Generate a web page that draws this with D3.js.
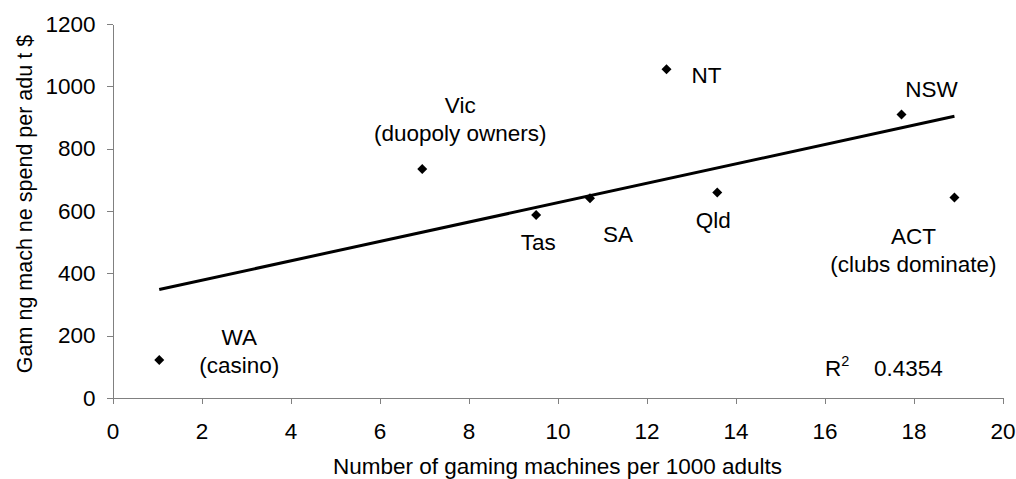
<!DOCTYPE html>
<html>
<head>
<meta charset="utf-8">
<script src="https://cdn.jsdelivr.net/npm/d3@7"></script>
<style>
  html, body { margin: 0; padding: 0; background: #fff; }
  svg { display: block; font-family: "Liberation Sans", Arial, sans-serif; }
  .axis path, .axis line { stroke: #808080; shape-rendering: crispEdges; }
  .axis text { fill: #000; font-size: 22.5px; }
  .lbl { font-size: 22.5px; fill: #000; }
</style>
</head>
<body>
<svg></svg>
<script>
// states, machines per 1000 adults, spend per adult $
const states   = ['WA', 'Vic', 'Tas', 'SA', 'NT', 'Qld', 'NSW', 'ACT']
const machines = [1.05, 6.96, 9.52, 10.73, 12.45, 13.59, 17.73, 18.92]
const spend    = [122, 735, 587, 641, 1055, 659, 910, 643]

// label text per state (second line optional)
const labelLines = [
  ['WA', '(casino)'],
  ['Vic', '(duopoly owners)'],
  ['Tas'],
  ['SA'],
  ['NT'],
  ['Qld'],
  ['NSW'],
  ['ACT', '(clubs dominate)']
]

const xTicks = [0, 2, 4, 6, 8, 10, 12, 14, 16, 18, 20]
const yTicks = [0, 200, 400, 600, 800, 1000, 1200]
const rSquared = '0.4354'

const xTitle = 'Number of gaming machines per 1000 adults'
const yTitle = 'Gam ng mach ne spend per adu t $'

// layout
const width = 1016
const height = 479
const plot = { left: 112.5, right: 1002.5, top: 24, bottom: 398 }
const lineHeight = 28

// label offsets from each point, in px (centred text)
const labelOffset = {
  WA:  [80, -15],
  Vic: [38, -56],
  Tas: [2, 35],
  SA:  [28, 44],
  NT:  [40, 14],
  Qld: [-4, 35],
  NSW: [30, -17],
  ACT: [-41, 46]
}

const svg = d3.select('svg')
  .attr('width', width)
  .attr('height', height)

const x = d3.scaleLinear().domain([0, 20]).range([plot.left, plot.right])
const y = d3.scaleLinear().domain([0, 1200]).range([plot.bottom, plot.top])

// axes
svg.append('g')
  .attr('class', 'axis')
  .attr('transform', `translate(0,${plot.bottom})`)
  .call(d3.axisBottom(x).tickValues(xTicks).tickSize(6).tickPadding(19).tickSizeOuter(0))

svg.append('g')
  .attr('class', 'axis')
  .attr('transform', `translate(${plot.left},0)`)
  .call(d3.axisLeft(y).tickValues(yTicks).tickFormat(d3.format('d'))
    .tickSize(6).tickPadding(11).tickSizeOuter(0))

// axis titles
svg.append('text')
  .attr('class', 'lbl')
  .attr('x', (plot.left + plot.right) / 2)
  .attr('y', 474)
  .attr('text-anchor', 'middle')
  .text(xTitle)

svg.append('text')
  .attr('class', 'lbl')
  .style('font-size', '21.5px')
  .attr('transform', `translate(32,${204}) rotate(-90)`)
  .attr('text-anchor', 'middle')
  .text(yTitle)

// least squares trend line
const data = states.map((s, i) => ({ state: s, x: machines[i], y: spend[i], lines: labelLines[i] }))
const mx = d3.mean(machines)
const my = d3.mean(spend)
const sxy = d3.sum(data, d => (d.x - mx) * (d.y - my))
const sxx = d3.sum(data, d => (d.x - mx) ** 2)
const slope = sxy / sxx
const intercept = my - slope * mx
const [x0, x1] = d3.extent(machines)

svg.append('line')
  .attr('x1', x(x0)).attr('y1', y(intercept + slope * x0))
  .attr('x2', x(x1)).attr('y2', y(intercept + slope * x1))
  .attr('stroke', '#000')
  .attr('stroke-width', 3)

// points (diamonds)
const diamond = d3.symbol().type(d3.symbolSquare).size(50)
svg.append('g')
  .selectAll('path')
  .data(data)
  .join('path')
    .attr('d', diamond)
    .attr('transform', d => `translate(${x(d.x)},${y(d.y)}) rotate(45)`)
    .attr('fill', '#000')

// state labels
const labels = svg.append('g')
  .selectAll('text')
  .data(data)
  .join('text')
    .attr('class', 'lbl')
    .attr('text-anchor', 'middle')
    .attr('x', d => x(d.x) + labelOffset[d.state][0])
    .attr('y', d => y(d.y) + labelOffset[d.state][1])

labels.selectAll('tspan')
  .data(d => d.lines.map((t, i) => ({ t, i, d })))
  .join('tspan')
    .attr('x', o => x(o.d.x) + labelOffset[o.d.state][0])
    .attr('dy', o => o.i === 0 ? 0 : lineHeight)
    .text(o => o.t)

// R squared note
const r2 = svg.append('text')
  .attr('class', 'lbl')
  .attr('x', 825)
  .attr('y', 376)
r2.append('tspan').text('R')
r2.append('tspan').attr('dy', -10).style('font-size', '14.5px').text('2')
r2.append('tspan').attr('x', 874).attr('dy', 10).text(rSquared)
</script>
</body>
</html>
